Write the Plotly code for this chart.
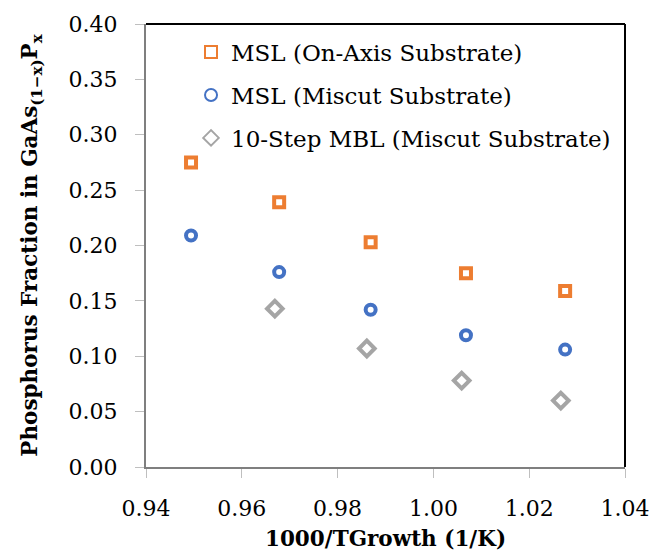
import plotly.graph_objects as go

# Data
x_msl_onaxis = [0.9494, 0.9678, 0.9869, 1.0068, 1.0275]
y_msl_onaxis = [0.275, 0.239, 0.203, 0.175, 0.159]

x_msl_miscut = [0.9494, 0.9678, 0.9869, 1.0068, 1.0275]
y_msl_miscut = [0.209, 0.176, 0.142, 0.119, 0.106]

x_mbl_miscut = [0.9669, 0.9861, 1.0059, 1.0266]
y_mbl_miscut = [0.143, 0.107, 0.078, 0.060]

names = ["MSL (On-Axis Substrate)", "MSL (Miscut Substrate)", "10-Step MBL (Miscut Substrate)"]
x_ticks = [0.94, 0.96, 0.98, 1.00, 1.02, 1.04]
y_ticks = [0.00, 0.05, 0.10, 0.15, 0.20, 0.25, 0.30, 0.35, 0.40]

FONT = "DejaVu Serif"

fig = go.Figure()
fig.add_trace(go.Scatter(
    x=x_msl_onaxis, y=y_msl_onaxis, mode="markers", name=names[0], legendgroup="a",
    marker=dict(symbol="square-open", size=10, color="#ED7D31", line=dict(width=4, color="#ED7D31")),
))
fig.add_trace(go.Scatter(
    x=x_msl_miscut, y=y_msl_miscut, mode="markers", name=names[1], legendgroup="b",
    marker=dict(symbol="circle-open", size=10, color="#4472C4", line=dict(width=4, color="#4472C4")),
))
fig.add_trace(go.Scatter(
    x=x_mbl_miscut, y=y_mbl_miscut, mode="markers", name=names[2], legendgroup="c",
    marker=dict(symbol="diamond-open", size=12, color="#A5A5A5", line=dict(width=4, color="#A5A5A5")),
))

fig.update_layout(
    width=651, height=552,
    margin=dict(l=146, r=26, t=24, b=85),
    paper_bgcolor="white", plot_bgcolor="white",
    font=dict(family=FONT, size=22, color="black"),
    showlegend=True,
    legend=dict(x=0.094, y=0.985, xanchor="left", yanchor="top",
                bgcolor="rgba(0,0,0,0)", font=dict(family=FONT, size=23, color="black"),
                tracegroupgap=10, itemsizing="constant"),
    xaxis=dict(
        range=[0.94, 1.04], tickvals=x_ticks, ticktext=[f"{v:.2f}" for v in x_ticks],
        showgrid=False, zeroline=False, showline=True, linecolor="#7F7F7F", linewidth=2,
        ticks="outside", ticklen=9, tickcolor="#BFBFBF", tickwidth=1,
        ticklabelstandoff=12, automargin=False,
        title=dict(text="<b>1000/TGrowth (1/K)</b>", font=dict(family=FONT, size=21.5), standoff=11),
        tickfont=dict(family=FONT, size=22),
    ),
    yaxis=dict(
        range=[0, 0.40], tickvals=y_ticks, ticktext=[f"{v:.2f}" for v in y_ticks],
        showgrid=False, zeroline=False, showline=True, linecolor="#7F7F7F", linewidth=2,
        ticks="outside", ticklen=9, tickcolor="#BFBFBF", tickwidth=1,
        ticklabelstandoff=13, automargin=False,
        title=dict(text="<b>Phosphorus Fraction in GaAs<sub>(1\u2212x)</sub>P<sub>x</sub></b>",
                   font=dict(family=FONT, size=21.5), standoff=25),
        tickfont=dict(family=FONT, size=22),
    ),
    shapes=[
        dict(type="line", xref="x domain", yref="y domain", x0=0, x1=1, y0=1, y1=1,
             line=dict(color="black", width=2)),
        dict(type="line", xref="x domain", yref="y domain", x0=1, x1=1, y0=0, y1=1,
             line=dict(color="black", width=2)),
    ],
)

fig.write_html("out.html", config={"displayModeBar": False},
               post_script="document.body.style.margin='0';")
